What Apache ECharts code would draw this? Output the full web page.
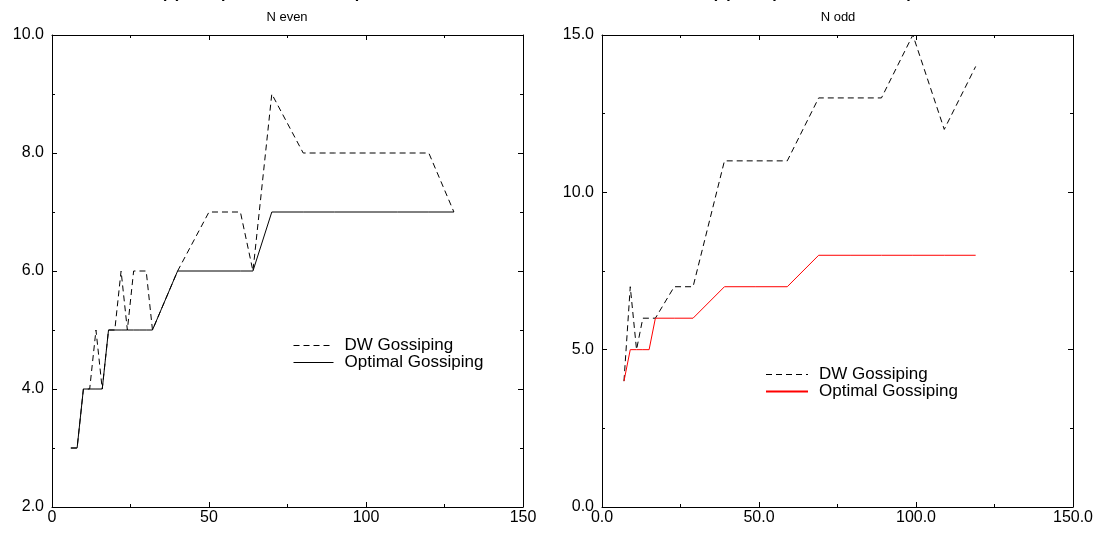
<!DOCTYPE html>
<html>
<head>
<meta charset="utf-8">
<script src="https://cdn.jsdelivr.net/npm/echarts@6/dist/echarts.min.js"></script>
<style>html,body{margin:0;padding:0;background:#fff}#c{width:1100px;height:535px}</style>
</head>
<body>
<div id="c"></div>
<script>
// N even panel
const evenN = [6, 8, 10, 12, 14, 16, 18, 20, 22, 24, 26, 28, 30, 32, 40, 50, 60, 64, 70, 80, 90, 100, 110, 120, 128];
const evenDW = [3, 3, 4, 4, 5, 4, 5, 5, 6, 5, 6, 6, 6, 5, 6, 7, 7, 6, 9, 8, 8, 8, 8, 8, 7];
const evenOpt = [3, 3, 4, 4, 4, 4, 5, 5, 5, 5, 5, 5, 5, 5, 6, 6, 6, 6, 7, 7, 7, 7, 7, 7, 7];
// N odd panel
const oddN = [7, 9, 11, 13, 15, 17, 23, 29, 39, 49, 59, 69, 79, 89, 99, 109, 119];
const oddDW = [4, 7, 5, 6, 6, 6, 7, 7, 11, 11, 11, 13, 13, 13, 15, 12, 14];
const oddOpt = [4, 5, 5, 5, 5, 6, 6, 6, 7, 7, 7, 8, 8, 8, 8, 8, 8];
// text
const titleLeft = '(a) Completion Time Comparison';
const titleRight = '(b) Completion Time Comparison';
const subLeft = 'N even';
const subRight = 'N odd';
const nameDW = 'DW Gossiping';
const nameOpt = 'Optimal Gossiping';

const pairs = (xs, ys) => xs.map((x, i) => [x, ys[i]]);
const FONT = 'Liberation Sans';
const FS = 16;
const DASH = [6, 4];

function xAx(grid, pos, fmt) {
  return {
    type: 'value', gridIndex: grid, position: pos, min: 0, max: 150, interval: 50,
    axisLine: {show: true, onZero: false, lineStyle: {color: '#000', width: 1}},
    axisTick: {show: true, inside: true, length: 5, lineStyle: {color: '#000'}},
    minorTick: {show: true, splitNumber: 2, length: 3, lineStyle: {color: '#000'}},
    splitLine: {show: false},
    axisLabel: {show: pos === 'bottom', color: '#000', fontFamily: FONT, fontSize: FS, margin: 3, formatter: fmt}
  };
}
function yAx(grid, pos, min, max, interval) {
  return {
    type: 'value', gridIndex: grid, position: pos, min: min, max: max, interval: interval,
    axisLine: {show: true, onZero: false, lineStyle: {color: '#000', width: 1}},
    axisTick: {show: true, inside: true, length: 5, lineStyle: {color: '#000'}},
    minorTick: {show: true, splitNumber: 2, length: 3, lineStyle: {color: '#000'}},
    splitLine: {show: false},
    axisLabel: {show: pos === 'left', color: '#000', fontFamily: FONT, fontSize: FS, margin: 8,
      formatter: v => v.toFixed(1)}
  };
}
function line(name, x, y, data, color, dashed) {
  return {
    type: 'line', name: name, xAxisIndex: x, yAxisIndex: y, data: data,
    symbol: 'none', showSymbol: false, animation: false,
    lineStyle: {color: color, width: 1, type: dashed ? DASH : 'solid'},
    itemStyle: {color: color}
  };
}
function legend(items, left, top, w) {
  return {
    data: items, orient: 'vertical', left: left, top: top, padding: 0,
    itemWidth: w, itemHeight: 14, itemGap: 0, selectedMode: false,
    itemStyle: {opacity: 0, borderWidth: 0},
    textStyle: {fontFamily: FONT, fontSize: 17, color: '#000', lineHeight: 17, padding: [0, 0, 0, 6]},
    formatter: n => n.trim()
  };
}
const thin = name => ({name: name, lineStyle: {width: 1, color: '#000'}});

const chart = echarts.init(document.getElementById('c'));
chart.setOption({
  animation: false,
  backgroundColor: '#fff',
  title: [
    {text: titleLeft, left: 282, top: -19, textAlign: 'center', textStyle: {fontFamily: FONT, fontSize: 16, fontWeight: 'bold', color: '#000'}},
    {text: titleRight, left: 833, top: -19, textAlign: 'center', textStyle: {fontFamily: FONT, fontSize: 16, fontWeight: 'bold', color: '#000'}},
    {text: subLeft, left: 282, top: 6, textAlign: 'center', textStyle: {fontFamily: FONT, fontSize: 13, fontWeight: 'normal', color: '#000'}},
    {text: subRight, left: 833, top: 6, textAlign: 'center', textStyle: {fontFamily: FONT, fontSize: 13, fontWeight: 'normal', color: '#000'}}
  ],
  grid: [
    {left: 52, top: 35, width: 471, height: 472, show: false},
    {left: 602, top: 35, width: 471, height: 472, show: false}
  ],
  xAxis: [
    xAx(0, 'bottom', v => String(v)),
    xAx(0, 'top', v => String(v)),
    xAx(1, 'bottom', v => v.toFixed(1)),
    xAx(1, 'top', v => v.toFixed(1))
  ],
  yAxis: [
    yAx(0, 'left', 2, 10, 2),
    yAx(0, 'right', 2, 10, 2),
    yAx(1, 'left', 0, 15, 5),
    yAx(1, 'right', 0, 15, 5)
  ],
  legend: [
    legend([thin(nameDW), thin(nameOpt)], 293, 337, 40),
    legend([thin(nameDW + ' '), nameOpt + ' '], 765, 366, 42)
  ],
  series: [
    line(nameDW, 0, 0, pairs(evenN, evenDW), '#000', true),
    line(nameOpt, 0, 0, pairs(evenN, evenOpt), '#000', false),
    line(nameDW + ' ', 2, 2, pairs(oddN, oddDW), '#000', true),
    line(nameOpt + ' ', 2, 2, pairs(oddN, oddOpt), '#ff0000', false)
  ]
});
</script>
</body>
</html>
